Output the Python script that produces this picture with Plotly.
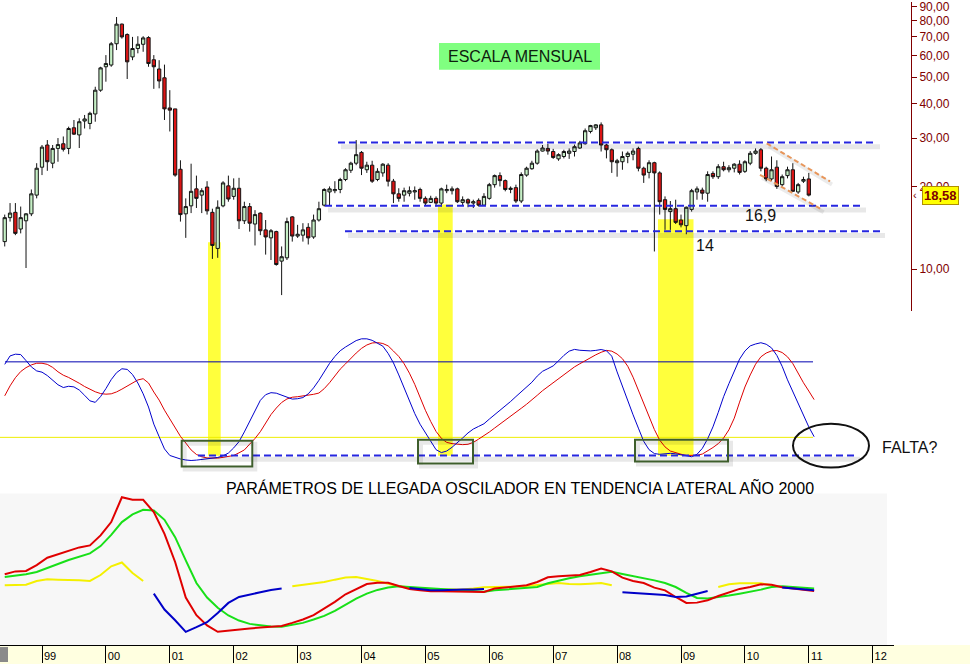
import math
import pandas as pd
import plotly.graph_objects as go

W, H = 970, 664

# ---------------- data ----------------
months = pd.date_range("1998-06-01", periods=153, freq="MS")
t_all = [d.year + (d.month - 1) / 12 for d in months]

opens = [12.6, 15.4, 16.1, 14.0, 15.0, 15.9, 18.6, 23.5, 28.3, 24.3,
         27.5, 28.6, 27.5, 32.7, 30.8, 34.6, 33.9, 36.7, 44.8, 54.5,
         55.3, 66.1, 77.9, 71.4, 59.2, 63.5, 65.8, 69.6, 57.8, 53.5,
         49.7, 38.6, 38.3, 23.1, 15.9, 17.0, 19.6, 18.6, 19.9, 16.1,
         11.9, 17.0, 20.1, 18.4, 19.7, 15.0, 16.9, 14.6, 16.0, 13.9,
         13.0, 13.7, 10.7, 11.0, 15.5, 13.2, 13.3, 14.2, 13.1, 15.1,
         17.1, 19.1, 19.3, 19.5, 21.2, 22.9, 24.3, 26.6, 23.0, 23.9,
         21.2, 22.4, 23.9, 20.9, 18.8, 18.6, 18.9, 19.1, 19.5, 18.1,
         17.5, 18.1, 17.4, 19.3, 19.3, 19.6, 17.5, 17.9, 17.4, 17.8,
         17.1, 18.1, 20.3, 21.9, 21.0, 19.5, 19.8, 17.7, 22.0, 23.2,
         24.3, 26.9, 27.5, 26.8, 25.2, 25.7, 26.4, 26.8, 27.6, 28.6,
         31.7, 32.7, 33.5, 28.3, 27.2, 24.4, 24.6, 25.7, 26.2, 27.5,
         23.3, 22.5, 24.4, 22.4, 17.9, 16.2, 16.6, 15.1, 14.4, 16.5,
         19.1, 19.4, 18.9, 22.3, 21.7, 23.6, 23.0, 23.3, 24.1, 22.7,
         24.3, 26.4, 27.2, 23.3, 21.3, 23.5, 20.3, 21.9, 23.0, 19.1,
         20.9, 21.3]
highs = [15.8, 17.4, 17.4, 16.9, 16.0, 19.5, 24.3, 28.3, 29.5, 28.3,
         30.0, 30.4, 33.0, 34.9, 35.4, 36.4, 37.4, 46.1, 54.5, 60.1,
         67.1, 82.7, 78.3, 72.1, 70.0, 70.4, 70.4, 70.4, 60.1, 57.6,
         55.5, 44.8, 38.3, 24.9, 18.1, 24.2, 21.9, 19.7, 20.9, 16.6,
         17.8, 20.9, 21.9, 21.4, 21.5, 17.6, 17.4, 16.4, 16.1, 15.1,
         14.0, 13.8, 12.1, 15.4, 15.6, 14.5, 14.7, 14.7, 15.8, 17.6,
         19.7, 20.0, 20.9, 21.5, 23.3, 24.6, 29.5, 26.9, 24.6, 24.8,
         23.3, 24.3, 24.3, 21.3, 19.7, 19.8, 20.0, 20.0, 19.8, 18.4,
         18.5, 18.4, 19.8, 20.3, 20.0, 19.8, 18.4, 18.1, 17.9, 18.1,
         18.9, 20.6, 22.1, 22.5, 21.2, 20.0, 20.3, 22.5, 23.6, 24.8,
         27.3, 28.3, 28.6, 27.4, 26.4, 27.2, 27.5, 28.4, 29.3, 32.5,
         33.5, 33.7, 34.2, 28.6, 27.5, 25.2, 26.8, 26.8, 27.5, 27.9,
         23.6, 24.9, 24.6, 22.7, 18.4, 17.7, 17.9, 15.8, 16.9, 19.6,
         20.0, 19.8, 22.7, 22.7, 24.1, 24.6, 23.9, 24.3, 24.9, 24.9,
         26.9, 27.5, 27.6, 23.6, 25.7, 24.9, 22.1, 23.6, 24.3, 20.6,
         21.7, 22.4]
lows = [12.1, 14.9, 13.3, 13.5, 10.1, 15.6, 18.1, 22.0, 22.8, 23.3,
        24.6, 26.8, 26.2, 30.8, 27.6, 32.5, 32.3, 34.4, 44.2, 48.1,
        54.5, 62.7, 69.0, 49.2, 57.6, 61.0, 61.8, 54.5, 45.3, 45.5,
        34.9, 31.7, 21.7, 14.9, 13.0, 16.0, 16.7, 16.0, 15.8, 10.9,
        11.0, 16.8, 17.6, 17.9, 14.0, 14.6, 13.7, 12.2, 13.3, 11.3,
        10.8, 10.3, 8.05, 10.8, 12.6, 13.0, 12.6, 12.3, 12.9, 14.9,
        16.9, 17.1, 18.9, 18.9, 20.9, 22.4, 23.9, 22.0, 22.4, 20.6,
        20.9, 21.7, 20.0, 17.4, 17.6, 17.6, 18.4, 17.9, 17.6, 17.1,
        17.4, 16.9, 16.9, 18.9, 18.7, 17.4, 17.1, 16.8, 16.7, 16.9,
        17.0, 17.9, 19.8, 20.0, 19.2, 18.9, 17.4, 17.4, 21.7, 23.0,
        24.0, 26.8, 26.1, 25.2, 24.8, 25.3, 25.2, 25.7, 27.4, 28.4,
        31.2, 32.1, 26.8, 25.3, 22.4, 21.7, 23.0, 24.3, 24.9, 22.7,
        20.6, 21.4, 11.6, 15.8, 13.9, 13.9, 14.6, 14.2, 13.4, 16.2,
        17.9, 17.9, 17.6, 21.3, 21.3, 22.7, 22.5, 22.5, 22.1, 22.4,
        23.9, 26.1, 22.7, 20.9, 20.9, 19.6, 20.0, 21.4, 19.1, 18.8,
        20.6, 18.4]
closes = [15.4, 16.0, 13.5, 15.4, 15.9, 18.8, 23.3, 27.8, 24.6, 27.5,
          28.4, 27.3, 32.5, 31.0, 34.4, 35.2, 36.9, 44.8, 54.0, 56.0,
          66.1, 77.9, 70.0, 56.8, 63.5, 65.8, 69.4, 56.0, 54.5, 48.4,
          38.3, 37.9, 22.0, 15.8, 16.9, 19.2, 18.1, 19.3, 16.3, 12.2,
          16.8, 20.6, 18.0, 19.7, 15.0, 16.9, 14.7, 15.8, 13.8, 13.1,
          13.8, 10.4, 11.1, 14.9, 13.2, 13.4, 13.9, 13.0, 15.1, 16.6,
          19.5, 19.6, 19.5, 21.2, 23.0, 24.3, 26.1, 23.3, 23.9, 20.9,
          22.7, 24.1, 20.9, 18.8, 18.1, 19.3, 19.3, 19.3, 18.1, 17.4,
          18.1, 17.4, 19.6, 19.5, 19.6, 17.6, 17.9, 17.4, 17.6, 17.1,
          18.4, 20.3, 21.9, 21.0, 19.5, 19.7, 17.7, 22.1, 23.3, 24.3,
          26.9, 27.6, 26.9, 25.5, 26.1, 26.8, 26.9, 27.9, 28.8, 31.9,
          33.3, 33.5, 28.3, 27.2, 24.6, 24.8, 25.7, 26.4, 26.9, 23.3,
          22.0, 24.4, 22.4, 17.6, 16.5, 16.6, 14.8, 14.5, 16.8, 19.3,
          19.6, 18.9, 22.1, 21.7, 23.6, 23.0, 23.4, 24.1, 22.5, 24.6,
          26.4, 26.9, 23.3, 21.3, 23.0, 20.0, 21.7, 23.0, 19.2, 20.3,
          21.2, 18.6]

osc_blue = [78, 84.7, 86.1, 85.8, 81, 76, 72.8, 71.8, 69.1, 65.5,
            61.8, 59.6, 60.6, 60.1, 57.6, 53.4, 49.0, 47.8, 52.4, 58.7,
            65.9, 71.4, 74.5, 74.0, 69.9, 63.2, 54.6, 44.1, 30.5, 20.5,
            10.8, 5.6, 4.1, 2.8, 2.0, 1.6, 1.9, 2.4, 3.2, 3.7,
            4.0, 5.3, 7.5, 11.6, 16.6, 24.3, 32.7, 42.1, 49.4, 53.9,
            55.5, 55.1, 53.5, 51.6, 50.4, 50.7, 51.6, 54.6, 59.3, 65.3,
            72.6, 78.8, 84.3, 88.8, 91.8, 94.4, 96.9, 98.3, 98.3, 97.1,
            95.0, 92.5, 86.7, 79.2, 69.6, 58.9, 48.9, 38.9, 30.4, 23.5,
            16.6, 10.2, 7.9, 9.1, 12.1, 15.6, 19.5, 23.5, 26.6, 28.7,
            30.8, 34.5, 38.0, 41.0, 44.7, 48.5, 52.4, 56.3, 59.5, 63.8,
            68.7, 72.5, 74.6, 76.8, 80.8, 85.1, 88.5, 89.9, 89.2, 88.8,
            88.7, 89.1, 89.8, 88.8, 84.5, 72.0, 60.3, 48.7, 37.9, 27.3,
            16.8, 10.2, 7.1, 6.5, 6.9, 7.3, 6.9, 6.0, 4.9, 4.6,
            6.5, 11.2, 18.8, 28.3, 39.9, 52.3, 62.7, 72.8, 82.2, 88.6,
            92.7, 94.2, 95.2, 94.0, 91.1, 85.1, 76.4, 65.7, 56.5, 47.1,
            36.9, 28.3, 20.5]
osc_red = [53, 60.9, 67.4, 72.3, 75.4, 77.6, 78.9, 78.9, 78.0, 75.6,
           72.1, 69.4, 67.6, 65.5, 63.0, 60.4, 58.3, 56.2, 54.8, 54.3,
           54.6, 56.1, 58.3, 60.8, 63.4, 65.6, 66.6, 63.2, 56.0, 49.6,
           41.6, 34.8, 27.5, 20.8, 15.5, 10.0, 6.4, 4.6, 3.6, 3.3,
           3.5, 4.1, 4.8, 5.6, 7.7, 10.0, 14.6, 19.1, 24.5, 31.1,
           38.1, 43.3, 47.7, 50.5, 51.9, 52.3, 52.8, 53.3, 54.2, 55.2,
           58.7, 63.4, 69.0, 74.2, 78.4, 82.9, 87.0, 90.7, 93.4, 95.0,
           95.3, 94.6, 92.7, 88.6, 84.3, 78.5, 71.0, 62.1, 51.5, 41.5,
           32.6, 24.7, 19.2, 16.0, 15.0, 14.4, 14.2, 14.5, 16.0, 18.6,
           21.2, 24.2, 27.4, 30.4, 33.5, 37.0, 40.0, 43.1, 46.3, 49.6,
           53.4, 57.1, 60.3, 63.5, 66.6, 69.8, 73.0, 76.0, 78.5, 81.0,
           83.6, 85.6, 87.6, 89.1, 88.5, 86.2, 82.5, 76.5, 67.8, 57.5,
           47.0, 36.4, 26.2, 17.8, 12.4, 9.1, 7.6, 6.6, 5.6, 5.5,
           5.8, 6.7, 9.1, 11.9, 15.0, 19.5, 26.0, 35.2, 48.0, 60.0,
           69.6, 78.1, 84.0, 87.0, 88.7, 89.0, 87.4, 84.0, 78.6, 70.5,
           63.4, 56.8, 50.0]

# lower panel (sampled every second month)
low_red = [45.5, 47.5, 47.8, 51.9, 57.0, 59.3, 61.8, 64.1, 65.5, 72.4,
           81.6, 98.8, 97.0, 97.0, 88.5, 73.5, 54.0, 29.4, 17.2, 10.1,
           5.7, 6.6, 7.3, 8.0, 8.7, 9.2, 9.8, 11.9, 14.2, 17.2,
           21.8, 26.4, 31.7, 35.4, 38.8, 39.7, 39.7, 37.4, 35.4, 34.4,
           33.7, 33.7, 33.7, 33.3, 33.3, 33.3, 35.6, 36.3, 37.0, 37.9,
           40.2, 43.4, 44.1, 44.6, 45.0, 47.1, 49.4, 47.5, 43.2, 40.9,
           39.5, 36.3, 34.4, 29.8, 25.7, 25.9, 27.5, 30.5, 33.1, 35.4,
           36.7, 38.6, 38.3, 36.5, 35.6, 34.7, 34.0]
low_green = [43.6, 44.5, 45.5, 47.1, 50.1, 52.6, 55.4, 57.7, 60.0, 65.0,
             72.8, 81.6, 86.9, 90.1, 89.6, 83.2, 71.2, 55.1, 39.5, 29.4,
             22.3, 17.0, 13.5, 11.2, 10.1, 9.4, 9.2, 10.3, 11.9, 14.2,
             16.7, 20.2, 24.3, 28.7, 32.1, 34.7, 36.3, 37.2, 36.7, 36.3,
             35.8, 35.1, 34.9, 34.4, 34.4, 33.5, 34.4, 34.9, 35.4, 36.1,
             36.7, 39.3, 41.1, 42.7, 44.1, 45.2, 46.6, 47.3, 45.7, 44.3,
             43.2, 41.3, 39.5, 36.7, 32.6, 29.1, 28.7, 29.6, 30.8, 32.1,
             33.3, 34.9, 36.7, 37.2, 36.7, 36.3, 35.6]
N = None
low_yellow = [37.9, 37.9, 38.3, 40.9, 42.0, 41.8, 41.8, 41.3, 40.9, 45.0,
              51.0, 53.7, 46.4, 40.9, N, N, N, N, N, N,
              N, N, N, N, N, N, N, 37.2, 38.1, 39.0,
              40.2, 41.8, 43.2, 43.6, 42.5, 40.9, 39.0, 37.2, 36.3, 35.6,
              35.4, 35.1, 34.9, 34.9, 35.6, 36.5, 36.7, 36.7, 37.0, 37.4,
              38.1, 38.6, 39.5, 38.8, 38.6, 39.0, 39.5, 37.9, N, N,
              N, N, N, N, N, N, N, 36.7, 38.6, 39.3,
              39.5, 39.3, 37.9, N, N, N, N]
low_blue = [N, N, N, N, N, N, N, N, N, N,
            N, N, N, N, 32.1, 21.1, 13.7, 5.7, 8.9, 12.4,
            18.8, 25.7, 29.8, 31.7, 33.1, 34.7, 35.6, N, N, N,
            N, N, N, N, N, N, N, N, 36.1, 35.1,
            34.4, 34.4, 34.9, 34.9, 34.9, 35.4, N, N, N, N,
            N, N, N, N, N, N, N, N, 33.1, 32.6,
            32.6, 32.1, 31.2, 29.8, 30.1, 32.1, 33.9, N, N, N,
            N, N, N, 36.3, 35.6, 34.9, 34.4]

year_ticks = list(range(1999, 2013))
year_labels = ["99", "00", "01", "02", "03", "04", "05", "06", "07",
               "08", "09", "10", "11", "12"]
price_ticks = [10, 20, 30, 40, 50, 60, 70, 80, 90]
price_labels = ["10,00", "20,00", "30,00", "40,00", "50,00", "60,00",
                "70,00", "80,00", "90,00"]
levels = [28.9, 17.0, 13.75]
last_price = "18,58"
osc_levels = [80, 20, 5.5]

# ---------------- helpers for decorations (pixel -> axis units) ----------------
def xp(px):
    return px / W


def yp(py):
    return 1 - py / H


def yr(px):
    return 1999 + (px - 42) / 63.9


def lg(py):
    return 1 + (268 - py) / 275.7


def pr(py):
    return 10 ** lg(py)


def ov(py):
    return (461.9 - py) / 1.262


FONT = "Arial, Liberation Sans, sans-serif"

fig = go.Figure()

fig.add_trace(go.Candlestick(
    x=t_all[:len(opens)], open=opens, high=highs, low=lows, close=closes,
    increasing=dict(line=dict(color="#141414", width=1), fillcolor="#C6F0C6"),
    decreasing=dict(line=dict(color="#141414", width=1), fillcolor="#DC1414"),
    whiskerwidth=0, showlegend=False, hoverinfo="skip",
    xaxis="x", yaxis="y"))

# support / resistance dashed lines (with soft shadow)
for lev, (x0, x1) in zip(levels, [(338, 877), (325, 863), (345, 882)]):
    fig.add_trace(go.Scatter(x=[yr(x0 + 3), yr(x1 + 3)], y=[lev * 0.965, lev * 0.965],
                             mode="lines", line=dict(color="rgba(0,0,0,0.09)", width=5),
                             showlegend=False, hoverinfo="skip", xaxis="x", yaxis="y"))
    fig.add_trace(go.Scatter(x=[yr(x0), yr(x1)], y=[lev, lev], mode="lines",
                             line=dict(color="#2626E0", width=2, dash="7px,4px"),
                             showlegend=False, hoverinfo="skip", xaxis="x", yaxis="y"))

# orange descending channel
for (ax, ay, bx, by) in [(766.7, 141.7, 830, 180), (760, 173.3, 821.7, 208)]:
    fig.add_trace(go.Scatter(x=[yr(ax + 2), yr(bx + 2)], y=[pr(ay + 3), pr(by + 3)],
                             mode="lines", line=dict(color="rgba(0,0,0,0.08)", width=4),
                             showlegend=False, hoverinfo="skip", xaxis="x", yaxis="y"))
    fig.add_trace(go.Scatter(x=[yr(ax), yr(bx)], y=[pr(ay), pr(by)], mode="lines",
                             line=dict(color="#E8965A", width=2, dash="5px,3px"),
                             showlegend=False, hoverinfo="skip", xaxis="x", yaxis="y"))

fig.add_trace(go.Scatter(x=t_all, y=osc_red, mode="lines",
                         line=dict(color="#DD0000", width=1),
                         showlegend=False, xaxis="x", yaxis="y2"))
fig.add_trace(go.Scatter(x=t_all, y=osc_blue, mode="lines",
                         line=dict(color="#0000CC", width=1),
                         showlegend=False, xaxis="x", yaxis="y2"))

t2 = t_all[::2]
for series, col in [(low_yellow, "#F4F000"), (low_green, "#18E018"),
                    (low_red, "#E00000"), (low_blue, "#0000C8")]:
    fig.add_trace(go.Scatter(x=t2, y=series, mode="lines",
                             line=dict(color=col, width=2),
                             connectgaps=False, showlegend=False,
                             xaxis="x", yaxis="y3"))

shapes = []
# bottom axis strip and lower panel background
shapes.append(dict(type="rect", xref="paper", yref="paper", x0=0, x1=1,
                   y0=0, y1=yp(645), fillcolor="#FFFFE0", line_width=0,
                   layer="below"))
shapes.append(dict(type="rect", xref="paper", yref="paper", x0=0, x1=xp(887),
                   y0=yp(645), y1=yp(493), fillcolor="#F7F7F7", line_width=0,
                   layer="below"))
shapes.append(dict(type="rect", xref="paper", yref="paper", x0=0, x1=xp(8),
                   y0=yp(662), y1=yp(647), fillcolor="#8A8A8A", line_width=0))

# yellow highlight bars
for x0, x1, top in [(208, 220.7, 241), (438, 452.7, 203), (658, 693.5, 218)]:
    shapes.append(dict(type="rect", xref="x", yref="paper", x0=yr(x0), x1=yr(x1),
                       y0=yp(455), y1=yp(top), fillcolor="#FFFF3C",
                       line_width=0, layer="below"))

# oscillator reference lines
shapes.append(dict(type="line", xref="x", yref="y2", x0=yr(5), x1=yr(813),
                   y0=osc_levels[0], y1=osc_levels[0],
                   line=dict(color="#0000B0", width=1), layer="below"))
shapes.append(dict(type="line", xref="x", yref="y2", x0=yr(0), x1=yr(813),
                   y0=osc_levels[1], y1=osc_levels[1],
                   line=dict(color="#EEEE00", width=1), layer="below"))
shapes.append(dict(type="line", xref="x", yref="y2", x0=yr(201), x1=yr(860),
                   y0=osc_levels[2] - 3, y1=osc_levels[2] - 3,
                   line=dict(color="rgba(0,0,0,0.09)", width=5)))
shapes.append(dict(type="line", xref="x", yref="y2", x0=yr(198), x1=yr(857),
                   y0=osc_levels[2], y1=osc_levels[2],
                   line=dict(color="#2626E0", width=2, dash="7px,4px")))

# green boxes
for x0, x1, y0, y1 in [(181.7, 252.3, 440, 466), (418, 473, 439, 463),
                       (635, 728, 439, 461)]:
    shapes.append(dict(type="rect", xref="x", yref="y2", x0=yr(x0 + 3), x1=yr(x1 + 3),
                       y0=ov(y1 + 3), y1=ov(y0 + 3),
                       line=dict(color="rgba(0,0,0,0.09)", width=4)))
    shapes.append(dict(type="rect", xref="x", yref="y2", x0=yr(x0), x1=yr(x1),
                       y0=ov(y1), y1=ov(y0),
                       line=dict(color="#3E5E2C", width=2)))

# ellipse
shapes.append(dict(type="circle", xref="x", yref="y2", x0=yr(793), x1=yr(869),
                   y0=ov(467), y1=ov(423), line=dict(color="#111111", width=2)))

# ESCALA MENSUAL box
shapes.append(dict(type="rect", xref="paper", yref="paper", x0=xp(439), x1=xp(600),
                   y0=yp(68), y1=yp(41), fillcolor="#80FF80", line_width=0))

annotations = [
    dict(text="ESCALA MENSUAL", x=xp(519.5), y=yp(54.5), font=dict(size=16, color="#0E200E")),
    dict(text="16,9", x=xp(760), y=yp(214), font=dict(size=16, color="#111111")),
    dict(text="14", x=xp(705), y=yp(244), font=dict(size=16, color="#111111")),
    dict(text="FALTA?", x=xp(910), y=yp(447), font=dict(size=16, color="#111111")),
    dict(text="PARÁMETROS DE LLEGADA OSCILADOR EN TENDENCIA LATERAL AÑO 2000",
         x=xp(520), y=yp(487), font=dict(size=16, color="#000000")),
    dict(text="<b>" + last_price + "</b>", x=xp(940.5), y=yp(194),
         font=dict(size=13, color="#800000"), bgcolor="#FFFF00",
         bordercolor="#B09000", borderwidth=1, borderpad=1),
    dict(text="‹", x=xp(914.5), y=yp(194), font=dict(size=11, color="#800000")),
]
for a in annotations:
    a.update(xref="paper", yref="paper", showarrow=False, xanchor="center",
             yanchor="middle")
    a["font"]["family"] = FONT

fig.update_layout(
    width=W, height=H,
    margin=dict(l=0, r=0, t=0, b=0),
    paper_bgcolor="white", plot_bgcolor="rgba(0,0,0,0)",
    showlegend=False, boxgap=0.12,
    font=dict(family=FONT),
    shapes=shapes, annotations=annotations,
    xaxis=dict(domain=[0, xp(894)], range=[yr(0), yr(894)], anchor="y3",
               showline=True, linecolor="#000000", linewidth=1,
               ticks="outside", ticklen=17, tickcolor="#000000", tickwidth=1,
               tickvals=year_ticks, ticktext=year_labels,
               tickfont=dict(size=11, color="#000000", family=FONT),
               ticklabelshift=8, ticklabelstandoff=-16, ticklabeloverflow="allow",
               showgrid=False, zeroline=False,
               rangeslider=dict(visible=False)),
    yaxis=dict(type="log", domain=[yp(310), 1], range=[lg(310), lg(0)],
               anchor="free", position=xp(911), side="right",
               showline=True, linecolor="#800000", linewidth=1,
               ticks="outside", ticklen=5, tickcolor="#800000",
               tickvals=price_ticks, ticktext=price_labels,
               tickfont=dict(size=12, color="#800000", family=FONT),
               ticklabeloverflow="allow",
               showgrid=False, zeroline=False),
    yaxis2=dict(domain=[yp(480), yp(330)], range=[ov(480), ov(330)],
                visible=False, anchor="x"),
    yaxis3=dict(domain=[yp(645), yp(493)], range=[-3.45, 101.38],
                visible=False, anchor="x"),
)

fig.write_html("out.html",
               config={"displayModeBar": False},
               post_script="document.body.style.margin='0px';document.body.style.padding='0px';")
